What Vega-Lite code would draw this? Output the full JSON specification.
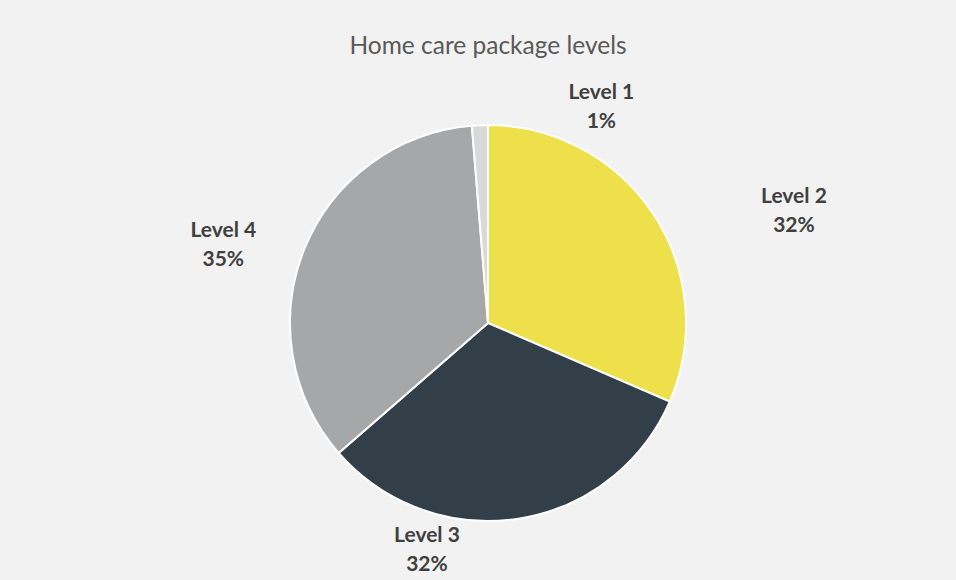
{
  "$schema": "https://vega.github.io/schema/vega-lite/v6.json",
  "autosize": {"type": "none"},
  "width": 936,
  "height": 514,
  "padding": {"left": 20, "top": 66, "right": 0, "bottom": 0},
  "background": "#F2F2F2",
  "view": {"stroke": null},
  "title": {
    "text": "Home care package levels",
    "font": "Lato",
    "fontSize": 24.5,
    "fontWeight": 400,
    "color": "#595959",
    "anchor": "middle",
    "offset": -16
  },
  "data": {
    "values": [
      {"label": "Level 2", "pct": "32%", "value": 31.5, "idx": 1},
      {"label": "Level 3", "pct": "32%", "value": 32.1, "idx": 2},
      {"label": "Level 4", "pct": "35%", "value": 35.1, "idx": 3},
      {"label": "Level 1", "pct": "1%", "value": 1.3, "idx": 4}
    ]
  },
  "transform": [
    {"calculate": "[datum.label, datum.pct]", "as": "lines"}
  ],
  "encoding": {
    "theta": {"field": "value", "type": "quantitative", "stack": true},
    "order": {"field": "idx", "type": "quantitative"}
  },
  "layer": [
    {
      "mark": {"type": "arc", "outerRadius": 198, "stroke": "white", "strokeWidth": 2},
      "encoding": {
        "color": {
          "field": "label",
          "type": "nominal",
          "scale": {
            "domain": ["Level 1", "Level 2", "Level 3", "Level 4"],
            "range": ["#D9D9D9", "#EDE04B", "#323E48", "#A6A7A9"]
          },
          "legend": null
        }
      }
    },
    {
      "mark": {"type": "text", "radius": 317, "dx": 41, "dy": 48, "font": "Lato", "fontSize": 21, "fontWeight": "bold", "color": "#404040", "lineHeight": 29, "baseline": "middle", "align": "center"},
      "encoding": {"text": {"condition": {"test": "datum.label === 'Level 2'", "field": "lines"}, "value": ""}}
    },
    {
      "mark": {"type": "text", "radius": 215, "dx": -94, "dy": 1, "font": "Lato", "fontSize": 21, "fontWeight": "bold", "color": "#404040", "lineHeight": 29, "baseline": "middle", "align": "center"},
      "encoding": {"text": {"condition": {"test": "datum.label === 'Level 3'", "field": "lines"}, "value": ""}}
    },
    {
      "mark": {"type": "text", "radius": 275, "dx": -10, "dy": 12, "font": "Lato", "fontSize": 21, "fontWeight": "bold", "color": "#404040", "lineHeight": 29, "baseline": "middle", "align": "center"},
      "encoding": {"text": {"condition": {"test": "datum.label === 'Level 4'", "field": "lines"}, "value": ""}}
    },
    {
      "mark": {"type": "text", "radius": 212, "dx": 122, "dy": -18, "font": "Lato", "fontSize": 21, "fontWeight": "bold", "color": "#404040", "lineHeight": 29, "baseline": "middle", "align": "center"},
      "encoding": {"text": {"condition": {"test": "datum.label === 'Level 1'", "field": "lines"}, "value": ""}}
    }
  ]
}
